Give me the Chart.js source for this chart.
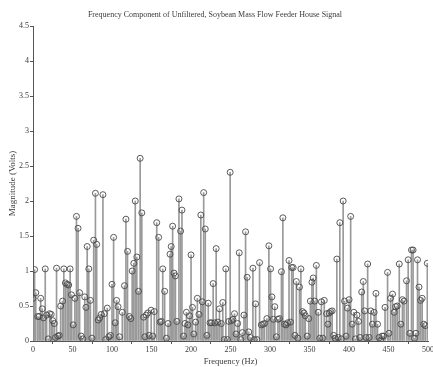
<!DOCTYPE html>
<html>
<head>
<meta charset="utf-8">
<script src="https://cdn.jsdelivr.net/npm/chart.js@4/dist/chart.umd.min.js"></script>
<style>
    html, body { margin: 0; padding: 0; background: #fff; }
    .wrap { width: 433px; height: 367px; }
</style>
</head>
<body>
<div class="wrap"><canvas class="spectrum-chart"></canvas></div>
<script>
// frequency bins (Hz) and FFT magnitude (volts)
const freqHz = [
    0, 2, 3.5, 6, 7.8, 9.7, 11.7, 13.2, 15.5, 17.2, 19.3, 21, 23, 25, 27, 28.5, 29.8, 31.5, 33.2, 35,
    37.4, 39, 41, 43.2, 45.2, 47, 48.7, 50.8, 53, 55, 57, 59, 61, 63, 65.5, 67, 68.6, 70.6, 72.6, 74.5,
    76.8, 79, 80.6, 82.4, 84.4, 86.4, 88.5, 90.2, 92, 94, 96, 98, 100, 102, 104, 105.8, 107.6, 109.5, 113, 115.8,
    117.6, 119.6, 121.8, 123.8, 125.5, 127.6, 129.4, 131.4, 133.5, 135.6, 137.7, 140, 141.6, 143.3, 145.2, 147, 149.5, 151.5, 153.5, 156.6,
    159, 160.8, 162.5, 164.2, 166.6, 168.8, 170.9, 173.4, 174.9, 176.7, 178.4, 180.2, 182, 184.7, 186.8, 188.5, 190.5, 192.3, 194.2, 196.1,
    198, 200, 201.8, 203.5, 205.8, 208, 210, 212.4, 214.2, 216, 218, 220, 221.8, 224, 226, 228, 230, 231.8, 234, 236,
    238.3, 240.2, 242, 244, 246, 247.8, 249.5, 251.2, 253, 255, 257, 259, 261, 263, 265, 267, 269, 271, 273, 275,
    278.3, 280, 281.7, 283.4, 286.7, 289, 291, 293, 296, 298.5, 300.6, 302.3, 304.2, 306, 308, 310, 312, 314.4, 316.2, 318.2,
    320.2, 322.2, 324, 325.8, 327.4, 329.2, 331.5, 333.3, 335.2, 337.2, 339, 341, 343, 344.6, 347, 349, 351, 353, 354.6, 356.6,
    358.6, 361, 363, 365, 366.7, 368.6, 371.5, 373.2, 374.8, 376.6, 378.6, 380.5, 382.3, 384.5, 386.3, 388.3, 390.2, 392.5, 394.3, 396.2,
    398, 400, 402, 404, 406, 408, 410, 412, 413.8, 416, 418, 419.7, 421.4, 423.5, 425.3, 427.5, 429.5, 431.7, 434, 436,
    438, 440, 441.7, 443.7, 445.5, 448.7, 450.4, 452.5, 455, 457, 459, 461, 463.5, 465.5, 467.5, 469.5, 472.7, 474.8, 477, 479,
    481, 482.8, 484.6, 486.6, 488.5, 490.5, 492.5, 494.5, 496.5, 499
];
const magnitude = [
    0.61, 1.02, 0.69, 0.35, 0.35, 0.61, 0.46, 0.33, 1.03, 0.37, 0.03, 0.39, 0.38, 0.29, 0.25, 0.05, 1.04, 0.07, 0.08, 0.5,
    0.57, 1.03, 0.83, 0.81, 0.8, 1.03, 0.66, 0.23, 0.61, 1.78, 1.61, 0.69, 0.07, 0.03, 0.63, 0.48, 1.35, 1.03, 0.58, 0.04,
    1.44, 2.11, 1.38, 0.3, 0.33, 0.38, 2.09, 0.39, 0.02, 0.47, 0.06, 0.08, 0.81, 1.48, 0.26, 0.58, 0.49, 0.06, 0.41, 0.79,
    1.74, 1.28, 0.35, 0.32, 1.0, 1.11, 2.0, 1.2, 0.71, 2.61, 1.83, 0.34, 0.06, 0.37, 0.4, 0.08, 0.44, 0.07, 0.42, 1.69,
    1.48, 0.27, 0.28, 1.03, 0.71, 0.04, 0.25, 1.24, 1.35, 1.64, 0.97, 0.93, 0.28, 2.03, 1.57, 1.87, 0.07, 0.25, 0.41, 0.23,
    0.36, 1.23, 0.48, 0.1, 0.27, 0.61, 0.38, 1.8, 0.56, 2.12, 1.6, 0.08, 0.54, 0.26, 0.26, 0.82, 0.26, 1.32, 0.27, 0.46,
    0.25, 0.55, 0.02, 1.03, 0.02, 0.28, 2.41, 0.29, 0.31, 0.39, 0.1, 0.25, 1.26, 0.02, 0.12, 0.37, 1.56, 0.91, 0.13, 0.05,
    1.04, 0.02, 0.53, 0.02, 1.12, 0.23, 0.24, 0.25, 0.32, 1.36, 1.03, 0.63, 0.31, 0.49, 0.06, 0.31, 0.32, 0.99, 1.76, 0.24,
    0.23, 0.26, 1.15, 0.27, 1.05, 1.05, 0.08, 0.85, 0.04, 0.77, 1.03, 0.42, 0.4, 0.36, 0.07, 0.32, 0.57, 0.84, 0.9, 0.57,
    1.08, 0.41, 0.04, 0.56, 0.04, 0.58, 0.39, 0.24, 0.4, 0.42, 0.43, 0.08, 0.04, 1.17, 0.05, 1.69, 0.03, 2.0, 0.57, 0.07,
    0.47, 0.59, 1.78, 0.24, 0.41, 0.03, 0.37, 0.28, 0.05, 0.7, 0.85, 0.43, 0.05, 1.1, 0.05, 0.43, 0.24, 0.41, 0.68, 0.24,
    0.05, 0.01, 0.07, 0.07, 0.48, 0.98, 0.11, 0.61, 0.67, 0.41, 0.49, 0.5, 1.1, 0.24, 0.59, 0.57, 0.86, 1.16, 0.11, 1.3,
    1.3, 0.04, 0.11, 1.16, 0.77, 0.58, 0.61, 0.24, 0.22, 1.11
];
const xTicks = [0, 50, 100, 150, 200, 250, 300, 350, 400, 450, 500];
const yTicks = [0, 0.5, 1, 1.5, 2, 2.5, 3, 3.5, 4, 4.5];

const points = freqHz.map((f, i) => ({ x: f, y: magnitude[i] }));

const serif = 'Liberation Serif';
const ink = '#3a3a3a';

const ctx = document.querySelector('.spectrum-chart');

new Chart(ctx, {
    type: 'bar',
    data: {
        datasets: [{
            type: 'line',
            label: 'markers',
            data: points,
            showLine: false,
            pointRadius: 3,
            pointBorderWidth: 0.9,
            pointBorderColor: '#4a4a4a',
            pointBackgroundColor: 'rgba(255,255,255,0)',
            order: 1
        },
        {
            label: 'stems',
            data: points,
            backgroundColor: '#9a9a9a',
            barThickness: 1,
            order: 2
        }]
    },
    options: {
        responsive: true,
        maintainAspectRatio: false,
        animation: false,
        layout: {
            padding: { left: 0, right: 3, top: 0, bottom: 0 }
        },
        scales: {
            x: {
                type: 'linear',
                min: 0,
                max: 500,
                offset: false,
                afterBuildTicks: (scale) => { scale.ticks = xTicks.map(v => ({ value: v })); },
                afterFit: (scale) => {
                    scale.height = 26;
                    scale.paddingLeft = 0;
                    scale.paddingRight = 0;
                },
                grid: {
                    drawOnChartArea: false,
                    tickLength: 3,
                    color: '#555'
                },
                border: { color: '#555' },
                ticks: {
                    padding: 1,
                    maxRotation: 0,
                    autoSkip: false,
                    color: ink,
                    font: { family: serif, size: 8 }
                },
                title: {
                    display: true,
                    text: 'Frequency (Hz)',
                    color: ink,
                    padding: 0,
                    font: { family: serif, size: 8.5 }
                }
            },
            y: {
                min: 0,
                max: 4.5,
                afterBuildTicks: (scale) => { scale.ticks = yTicks.map(v => ({ value: v })); },
                afterFit: (scale) => { scale.width = 33; },
                grid: {
                    drawOnChartArea: false,
                    tickLength: 3,
                    color: '#555'
                },
                border: { color: '#555' },
                ticks: {
                    padding: 1,
                    color: ink,
                    font: { family: serif, size: 8 },
                    callback: (v) => String(v)
                },
                title: {
                    display: true,
                    text: 'Magnitude (Volts)',
                    color: ink,
                    padding: { top: 7, bottom: 0 },
                    font: { family: serif, size: 9 }
                }
            }
        },
        plugins: {
            legend: {
                display: false
            },
            tooltip: {
                enabled: false
            },
            title: {
                display: true,
                text: 'Frequency Component of Unfiltered, Soybean Mass Flow Feeder House Signal',
                color: ink,
                padding: { top: 10, bottom: 6.4 },
                font: { family: serif, size: 8, weight: 'normal' }
            }
        }
    }
});
</script>
</body>
</html>
